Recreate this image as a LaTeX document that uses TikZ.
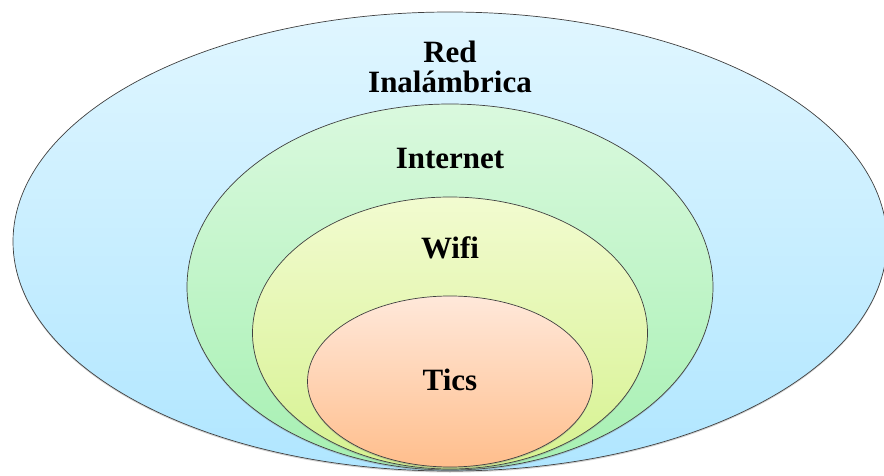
\documentclass[tikz,border=0pt]{standalone}
\usepackage{fontspec}
\setmainfont{Liberation Serif}
\usetikzlibrary{shapes.geometric,shadows}
\definecolor{redtop}{RGB}{224,246,255}
\definecolor{redbot}{RGB}{176,230,255}
\definecolor{inttop}{RGB}{218,249,222}
\definecolor{intbot}{RGB}{166,240,178}
\definecolor{wifitop}{RGB}{242,251,208}
\definecolor{wifibot}{RGB}{214,242,144}
\definecolor{ticstop}{RGB}{255,232,218}
\definecolor{ticsbot}{RGB}{255,190,140}
\tikzset{
  ring/.style={ellipse, draw=black!75, line width=0.7pt, inner sep=0pt, outer sep=0pt,
    drop shadow={opacity=0.35, shadow xshift=0pt, shadow yshift=-1.5pt}},
  lbl/.style={font=\fontsize{31}{31}\selectfont\bfseries, anchor=base, inner sep=0pt}
}
\begin{document}
\begin{tikzpicture}[x=1pt,y=1pt]
\useasboundingbox (0,0) rectangle (884,475);
\node[ring, top color=redtop, bottom color=redbot,
      minimum width=874pt, minimum height=459pt] (red) at (450,233.5) {};
\node[ring, top color=inttop, bottom color=intbot,
      minimum width=526pt, minimum height=366pt] (internet) at (450,188) {};
\node[ring, top color=wifitop, bottom color=wifibot,
      minimum width=395pt, minimum height=272pt] (wifi) at (450,142) {};
\node[ring, top color=ticstop, bottom color=ticsbot,
      minimum width=285pt, minimum height=171pt] (tics) at (450,93.5) {};
\node[lbl] (t1) at (450,412) {Red};
\node[lbl] (t2) at (450,382) {Inalámbrica};
\node[lbl] (t3) at (450,307) {Internet};
\node[lbl] (t4) at (450,217) {Wifi};
\node[lbl] (t5) at (450,85) {Tics};
\end{tikzpicture}
\end{document}
